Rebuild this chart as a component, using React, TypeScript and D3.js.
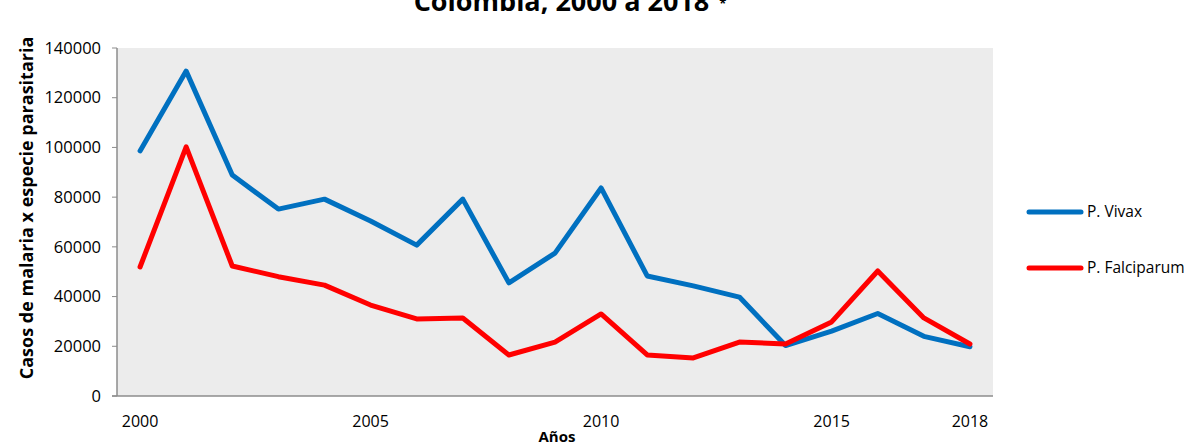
import React from "react";
import * as d3 from "d3";

const years = [2000, 2001, 2002, 2003, 2004, 2005, 2006, 2007, 2008, 2009, 2010, 2011, 2012, 2013, 2014, 2015, 2016, 2017, 2018];
const vivax = [98600, 130700, 88900, 75200, 79200, 70400, 60700, 79200, 45500, 57500, 83700, 48300, 44300, 39800, 20300, 26100, 33200, 24000, 19800];
const falciparum = [51900, 100200, 52300, 48000, 44600, 36600, 31000, 31400, 16500, 21700, 33000, 16500, 15300, 21700, 20900, 29800, 50300, 31400, 20900];
const yTicks = [0, 20000, 40000, 60000, 80000, 100000, 120000, 140000];
const xLabelYears = [2000, 2005, 2010, 2015, 2018];

const series = [
  { name: "P. Vivax", values: vivax, color: "#0070C0" },
  { name: "P. Falciparum", values: falciparum, color: "#FF0000" },
];

export default function App() {
  const W = 1189, H = 446;
  const left = 117, right = 993, top = 48, bottom = 396;
  const font = "'Open Sans', sans-serif";

  const x = d3.scaleBand<number>().domain(years).range([left, right]);
  const y = d3.scaleLinear().domain([0, 140000]).range([bottom, top]);
  const cx = (yr: number) => (x(yr) as number) + x.bandwidth() / 2;

  const line = d3
    .line<number>()
    .x((_, i) => cx(years[i]))
    .y((d) => y(d));

  return (
    <svg width={W} height={H} style={{ position: "absolute", left: 0, top: 0 }}>
      <rect x={0} y={0} width={W} height={H} fill="#fff" />
      <text x={570} y={11} textAnchor="middle" fontFamily={font} fontWeight="bold" fontSize={27} fill="#000">
        Colombia, 2000 a 2018
        <tspan fontSize={13} dx={10} dy={-3}>*</tspan>
      </text>
      <rect x={left} y={top} width={right - left} height={bottom - top} fill="#ECECEC" />
      {/* axes */}
      <line x1={left} x2={left} y1={top} y2={bottom} stroke="#8C8C8C" strokeWidth={1.5} />
      <line x1={left - 5} x2={right} y1={bottom} y2={bottom} stroke="#8C8C8C" strokeWidth={1.5} />
      {yTicks.map((t) => (
        <g key={t}>
          <line x1={left - 5} x2={left} y1={y(t)} y2={y(t)} stroke="#8C8C8C" strokeWidth={1} />
          <text x={left - 16} y={y(t)} dy="0.35em" textAnchor="end" fontFamily={font} fontSize={16.5} fill="#000">
            {t}
          </text>
        </g>
      ))}
      {xLabelYears.map((yr) => (
        <text key={yr} x={cx(yr)} y={427} textAnchor="middle" fontFamily={font} fontSize={16} fill="#000">
          {yr}
        </text>
      ))}
      <text x={557} y={442} textAnchor="middle" fontFamily={font} fontWeight="bold" fontSize={15} fill="#000">
        Años
      </text>
      <text
        transform={`translate(33, 208) rotate(-90)`}
        textAnchor="middle"
        fontFamily={font}
        fontWeight="bold"
        fontSize={18}
        fill="#000"
      >
        Casos de malaria x especie parasitaria
      </text>
      {series.map((s) => (
        <path
          key={s.name}
          d={line(s.values) as string}
          fill="none"
          stroke={s.color}
          strokeWidth={5}
          strokeLinejoin="round"
          strokeLinecap="round"
        />
      ))}
      {series.map((s, i) => {
        const ly = 212 + i * 56;
        return (
          <g key={s.name}>
            <line x1={1029} x2={1081} y1={ly} y2={ly} stroke={s.color} strokeWidth={5} strokeLinecap="round" />
            <text x={1087} y={ly} dy="0.35em" fontFamily={font} fontSize={15.5} fill="#000">
              {s.name}
            </text>
          </g>
        );
      })}
    </svg>
  );
}
